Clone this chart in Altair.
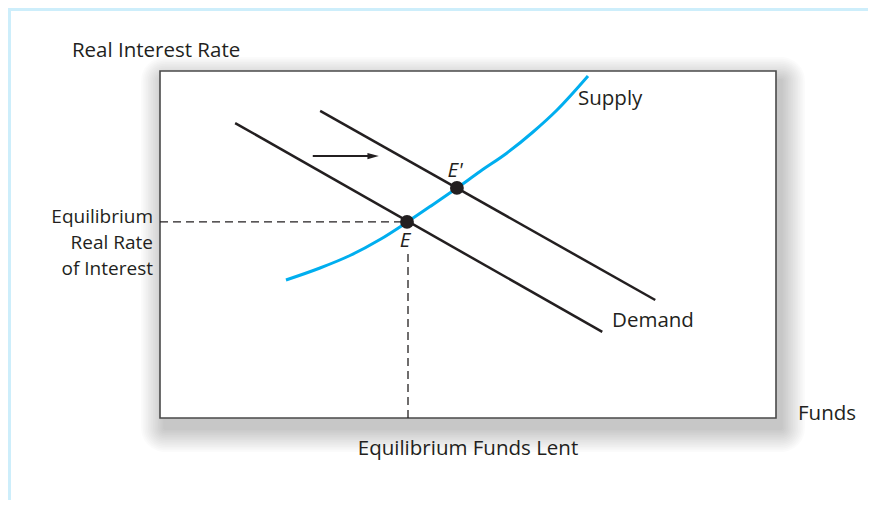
import altair as alt
import pandas as pd

# ---- data (axis units: funds 0..100, rate 0..100) ----
demand_x = [12.2, 71.8]
demand_y = [85.0, 24.8]
demand2_x = [26.0, 80.4]
demand2_y = [88.5, 34.0]
supply_x = [20.45, 25.97, 30.84, 35.71, 40.10, 43.83, 48.21, 51.95, 56.33, 60.55, 64.45, 69.48]
supply_y = [39.77, 43.23, 46.83, 51.44, 56.43, 60.92, 66.28, 71.04, 76.37, 82.42, 88.76, 98.56]
eq_names = ["E", "E'"]
eq_x = [40.1, 48.2]
eq_y = [56.5, 66.3]
eq_label_x = [39.77, 47.9]
eq_label_y = [51.0, 71.2]
arrow_x = [24.8, 34.6]
arrow_y = [75.5, 75.5]
label_text = ["Real Interest Rate", "Supply", "Demand", "Funds"]
label_x = [-14.3, 67.86, 73.38, 103.57]
label_y = [105.8, 91.9, 27.95, 1.15]
ylab_text = ["Equilibrium\nReal Rate\nof Interest"]
ylab_x = [-1.14]
ylab_y = [57.9]
xlab_text = ["Equilibrium Funds Lent"]

W, H = 616, 347
INK = "#231f20"
CYAN = "#00aeef"
FONT = "Open Sans"
FS = 20.5

xs = alt.Scale(domain=[0, 100], nice=False, zero=False)
ys = alt.Scale(domain=[0, 100], nice=False, zero=False)


def X(f):
    return alt.X(f, type="quantitative", scale=xs, axis=None)


def Y(f):
    return alt.Y(f, type="quantitative", scale=ys, axis=None)


one = alt.Data(values=[{"k": 1}])

layers = []

# frame (light blue bars at top and left of the page)
layers.append(alt.Chart(one).mark_rect(color="#cdeefb").encode(
    x=alt.value(-152), x2=alt.value(W + 100), y=alt.value(-63), y2=alt.value(-60)))
layers.append(alt.Chart(one).mark_rect(color="#cdeefb").encode(
    x=alt.value(-152), x2=alt.value(-149), y=alt.value(-63), y2=alt.value(H + 100)))

# soft drop shadow behind the plot box
for i in range(14):
    g = 24 - i * 1.7
    layers.append(alt.Chart(one).mark_rect(color="#000000", opacity=0.014,
                                           cornerRadius=g).encode(
        x=alt.value(5 - g), x2=alt.value(W + 5 + g),
        y=alt.value(10 - g), y2=alt.value(H + 10 + g)))

# plot box
layers.append(alt.Chart(one).mark_rect(fill="white", stroke="#4a4a4a", strokeWidth=1.6).encode(
    x=alt.value(0), x2=alt.value(W), y=alt.value(0), y2=alt.value(H)))

# dashed guides
guide_h = pd.DataFrame({"x": [0, eq_x[0]], "y": [eq_y[0], eq_y[0]]})
guide_v = pd.DataFrame({"x": [40.26, 40.26], "y": [0, 48.4]})
for g in (guide_h, guide_v):
    layers.append(alt.Chart(g).mark_line(color=INK, strokeWidth=1.3, strokeDash=[8, 5]).encode(
        x=X("x"), y=Y("y")))

# demand curves
dem = pd.DataFrame({
    "x": demand_x + demand2_x,
    "y": demand_y + demand2_y,
    "s": ["D1", "D1", "D2", "D2"],
})
layers.append(alt.Chart(dem).mark_line(color=INK, strokeWidth=2.5).encode(
    x=X("x"), y=Y("y"), detail="s:N"))

# supply curve
sup = pd.DataFrame({"x": supply_x, "y": supply_y, "o": list(range(len(supply_x)))})
layers.append(alt.Chart(sup).mark_line(color=CYAN, strokeWidth=3, interpolate="monotone").encode(
    x=X("x"), y=Y("y"), order="o:O"))

# shift arrow
arr = pd.DataFrame({"x": arrow_x, "y": arrow_y})
layers.append(alt.Chart(arr).mark_line(color=INK, strokeWidth=2.2).encode(x=X("x"), y=Y("y")))
layers.append(alt.Chart(arr.tail(1)).mark_point(
    shape="M-1,-0.55L1,0L-1,0.55Z", size=130, filled=True, color=INK, opacity=1).encode(
    x=X("x"), y=Y("y")))

# equilibrium points
eq = pd.DataFrame({"x": eq_x, "y": eq_y, "n": eq_names, "lx": eq_label_x, "ly": eq_label_y})
layers.append(alt.Chart(eq).mark_circle(size=190, color=INK, opacity=1).encode(x=X("x"), y=Y("y")))
layers.append(alt.Chart(eq).mark_text(font=FONT, fontSize=FS, fontStyle="italic", color=INK,
                                       align="center", baseline="middle").encode(
    x=X("lx"), y=Y("ly"), text="n:N"))

# labels
lab = pd.DataFrame({"t": label_text, "x": label_x, "y": label_y})
layers.append(alt.Chart(lab).mark_text(font=FONT, fontSize=FS, color=INK, align="left",
                                        baseline="middle").encode(
    x=X("x"), y=Y("y"), text="t:N"))
ylab = pd.DataFrame({"t": ylab_text, "x": ylab_x, "y": ylab_y})
layers.append(alt.Chart(ylab).mark_text(font=FONT, fontSize=19, color=INK, align="right",
                                         baseline="middle", lineBreak="\n",
                                         lineHeight=26).encode(
    x=X("x"), y=Y("y"), text="t:N"))
xlab = pd.DataFrame({"t": xlab_text, "x": [50.0], "y": [-8.93]})
layers.append(alt.Chart(xlab).mark_text(font=FONT, fontSize=FS, color=INK, align="center",
                                         baseline="middle").encode(
    x=X("x"), y=Y("y"), text="t:N"))

chart = alt.layer(*layers).properties(
    width=W, height=H,
    autosize=alt.AutoSizeParams(type="none"),
    padding={"left": 152, "top": 63, "right": 92, "bottom": 82},
    background="white",
).configure_view(stroke=None)

chart.save("out.html", embed_options={"renderer": "svg", "actions": False})
